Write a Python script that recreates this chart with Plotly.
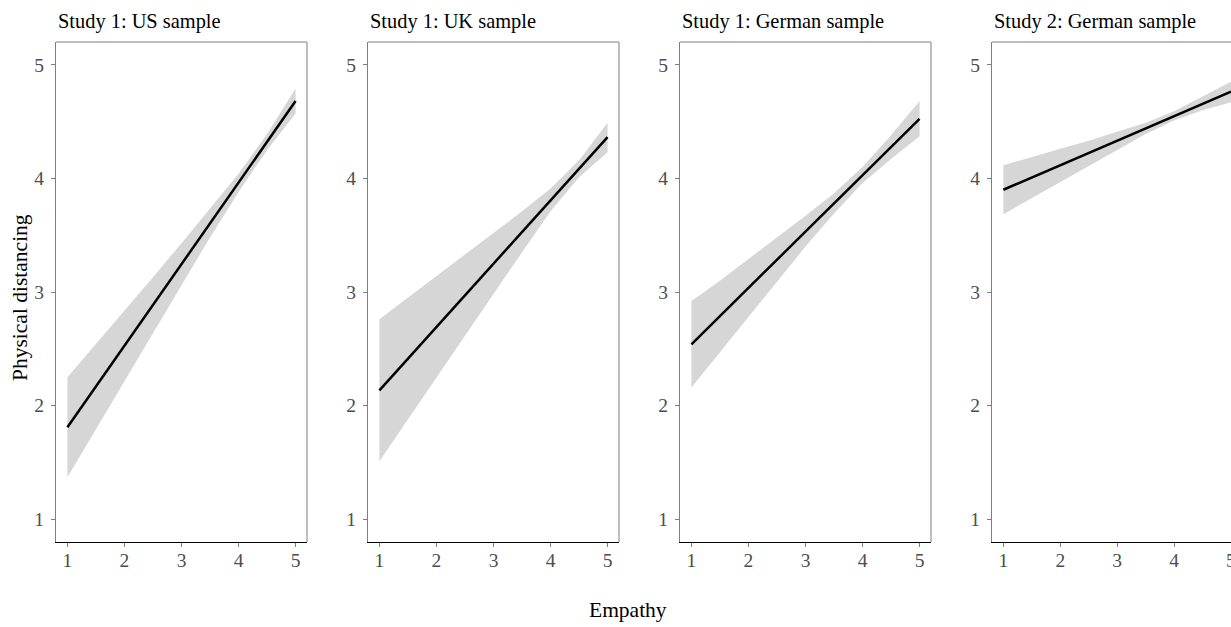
import plotly.graph_objects as go

empathy = [1, 1.5, 2, 2.5, 3, 3.5, 4, 4.5, 5]

panel_titles = ["Study 1: US sample", "Study 1: UK sample",
                "Study 1: German sample", "Study 2: German sample"]

fit_us = [1.81, 2.169, 2.528, 2.886, 3.245, 3.604, 3.963, 4.321, 4.68]
low_us = [1.37, 1.79, 2.22, 2.64, 3.06, 3.48, 3.88, 4.25, 4.57]
up_us = [2.25, 2.54, 2.84, 3.13, 3.43, 3.73, 4.04, 4.39, 4.79]

fit_uk = [2.135, 2.414, 2.692, 2.971, 3.249, 3.528, 3.806, 4.085, 4.363]
low_uk = [1.51, 1.88, 2.25, 2.62, 2.98, 3.35, 3.71, 4.01, 4.23]
up_uk = [2.76, 2.95, 3.14, 3.33, 3.52, 3.71, 3.91, 4.16, 4.49]

fit_de1 = [2.54, 2.788, 3.036, 3.284, 3.532, 3.78, 4.028, 4.276, 4.524]
low_de1 = [2.16, 2.47, 2.78, 3.09, 3.40, 3.69, 3.96, 4.17, 4.37]
up_de1 = [2.92, 3.10, 3.29, 3.48, 3.67, 3.87, 4.10, 4.38, 4.68]

fit_de2 = [3.90, 4.008, 4.116, 4.224, 4.332, 4.44, 4.548, 4.656, 4.764]
low_de2 = [3.685, 3.83, 3.97, 4.11, 4.25, 4.39, 4.51, 4.60, 4.67]
up_de2 = [4.115, 4.19, 4.26, 4.33, 4.41, 4.49, 4.59, 4.72, 4.85]

fits = [fit_us, fit_uk, fit_de1, fit_de2]
lows = [low_us, low_uk, low_de1, low_de2]
ups = [up_us, up_uk, up_de1, up_de2]

tick_vals = [1, 2, 3, 4, 5]
tick_text = ["1", "2", "3", "4", "5"]

W, H = 1231, 627
panel_px = [(56, 307), (368, 619), (680, 931), (992, 1231)]
top_px, bot_px = 42, 542
FONT = "Liberation Serif, Times New Roman, serif"
GRAY = "#7f7f7f"
TICKFONT = dict(family=FONT, size=19.5, color="#4d4d4d")

fig = go.Figure()
layout = dict(
    width=W, height=H,
    margin=dict(l=0, r=0, t=0, b=0),
    paper_bgcolor="white", plot_bgcolor="white",
    showlegend=False,
    font=dict(family=FONT),
)
shapes = []
annotations = []

for i in range(4):
    xs = "" if i == 0 else str(i + 1)
    xref, yref = "x" + xs, "y" + xs
    # ribbon
    fig.add_trace(go.Scatter(
        x=empathy + empathy[::-1], y=ups[i] + lows[i][::-1],
        fill="toself", fillcolor="#d6d6d6", line=dict(width=0),
        mode="lines", hoverinfo="skip", xaxis=xref, yaxis=yref))
    # fitted line
    fig.add_trace(go.Scatter(
        x=empathy, y=fits[i], mode="lines",
        line=dict(color="black", width=2.5), xaxis=xref, yaxis=yref))

    l, r = panel_px[i]
    xr = [0.8, 5.2] if i < 3 else [0.8, 5.0]
    layout["xaxis" + xs] = dict(
        domain=[l / W, r / W], range=xr, anchor=yref,
        tickvals=tick_vals, ticktext=tick_text,
        showgrid=False, zeroline=False,
        showline=True, linecolor="black", linewidth=1.2,
        ticks="outside", ticklen=4, tickcolor=GRAY, tickwidth=1,
        tickfont=TICKFONT, ticklabelstandoff=-4,
    )
    layout["yaxis" + xs] = dict(
        domain=[1 - bot_px / H, 1 - top_px / H], range=[0.8, 5.2], anchor=xref,
        tickvals=tick_vals, ticktext=tick_text,
        showgrid=False, zeroline=False,
        showline=True, linecolor=GRAY, linewidth=1,
        ticks="outside", ticklen=4, tickcolor=GRAY, tickwidth=1,
        tickfont=TICKFONT, ticklabelstandoff=3,
    )
    # top border
    shapes.append(dict(type="line", xref=xref + " domain", yref=yref + " domain",
                       x0=0, x1=1, y0=1, y1=1, line=dict(color=GRAY, width=1)))
    if i < 3:
        shapes.append(dict(type="line", xref=xref + " domain", yref=yref + " domain",
                           x0=1, x1=1, y0=0, y1=1, line=dict(color=GRAY, width=1)))
    annotations.append(dict(
        text=panel_titles[i], xref="paper", yref="paper",
        x=l / W, y=1 - 35 / H, xanchor="left", yanchor="bottom",
        showarrow=False, font=dict(family=FONT, size=20.4, color="black")))

# last panel's "5" tick label sits on the page edge (half cut off)
annotations.append(dict(
    text=tick_text[-1], xref="x4", yref="paper",
    x=tick_vals[-1], y=1 - 560 / H, xanchor="center", yanchor="middle",
    showarrow=False, font=TICKFONT))

annotations.append(dict(
    text="Empathy", xref="paper", yref="paper",
    x=628 / W, y=1 - 610 / H, xanchor="center", yanchor="middle",
    showarrow=False, font=dict(family=FONT, size=21.5, color="black")))
annotations.append(dict(
    text="Physical distancing", xref="paper", yref="paper",
    x=20 / W, y=1 - 298 / H, xanchor="center", yanchor="middle", textangle=-90,
    showarrow=False, font=dict(family=FONT, size=21.5, color="black")))

layout["shapes"] = shapes
layout["annotations"] = annotations
fig.update_layout(**layout)
fig.write_html("out.html",
               config={"displayModeBar": False},
               post_script="document.body.style.margin='0';document.body.style.overflow='hidden';")
